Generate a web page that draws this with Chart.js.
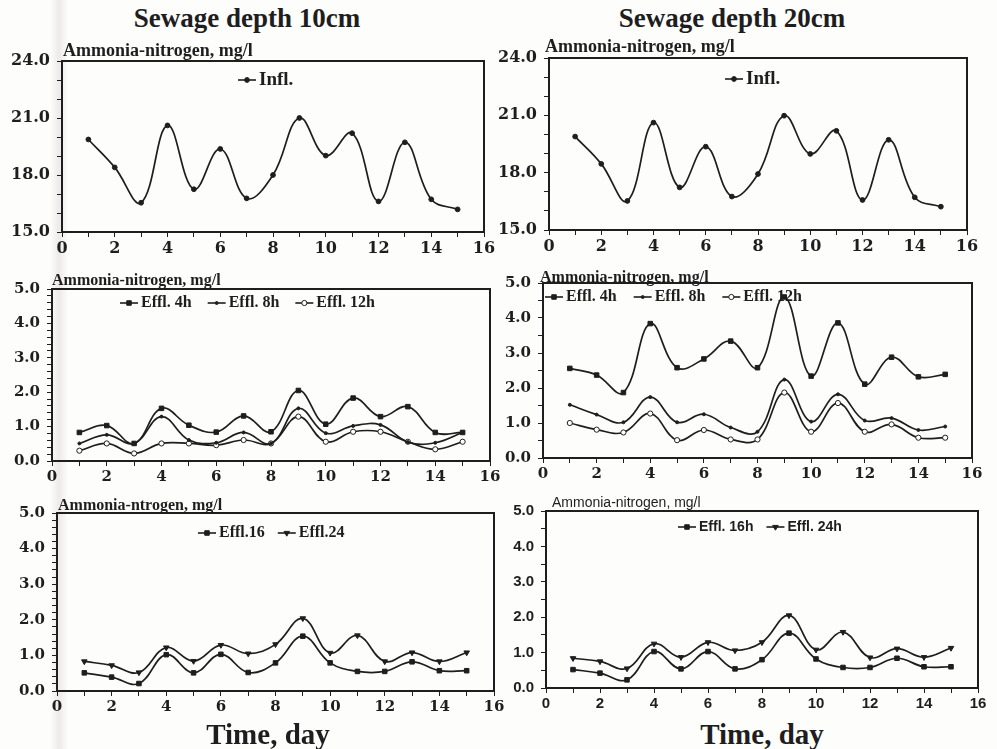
<!DOCTYPE html>
<html>
<head>
<meta charset="utf-8">
<script src="https://cdn.jsdelivr.net/npm/chart.js@4.4.1/dist/chart.umd.min.js"></script>
<style>
    body { margin: 0; width: 997px; height: 749px; position: relative; overflow: hidden; background: #fdfdfc; color: #1e1e1e; font-family: "Liberation Serif", serif; }
    .strip { position: absolute; left: 50px; top: 0; width: 18px; height: 749px; background: linear-gradient(90deg, rgba(0,0,0,0), rgba(120,110,100,0.13), rgba(0,0,0,0)); }
    .box { position: absolute; }
    .txt { position: absolute; white-space: nowrap; font-weight: bold; line-height: 1; }
    .head { font-size: 27px; transform: translate(-50%, -50%); }
    .ylab { transform: translateY(-50%); }
    .xlab { font-size: 29px; transform: translate(-50%, -50%); }
</style>
</head>
<body>
<div class="strip"></div>
<div id="charts"></div>

<div class="txt head" style="left:247px; top:18px;">Sewage depth 10cm</div>
<div class="txt head" style="left:732px; top:18px;">Sewage depth 20cm</div>

<div class="txt ylab" style="left:63px; top:50px; font-size:18px;">Ammonia-nitrogen, mg/l</div>
<div class="txt ylab" style="left:545px; top:46px; font-size:18px;">Ammonia-nitrogen, mg/l</div>
<div class="txt ylab" style="left:52px; top:280px; font-size:16px;">Ammonia-nitrogen, mg/l</div>
<div class="txt ylab" style="left:540px; top:277px; font-size:16px;">Ammonia-nitrogen, mg/l</div>
<div class="txt ylab" style="left:58px; top:505px; font-size:16px;">Ammonia-ntrogen, mg/l</div>
<div class="txt ylab" style="left:552px; top:502px; font-size:14px; font-weight:normal; font-family:'Liberation Sans', sans-serif;">Ammonia-nitrogen, mg/l</div>

<div class="txt xlab" style="left:268px; top:734px;">Time, day</div>
<div class="txt xlab" style="left:762px; top:734px;">Time, day</div>

<script>
// days of the run
const days = [1, 2, 3, 4, 5, 6, 7, 8, 9, 10, 11, 12, 13, 14, 15];

// influent, mg/l
const infl10 = [19.87, 18.40, 16.54, 20.61, 17.25, 19.37, 16.77, 18.00, 21.00, 19.02, 20.20, 16.61, 19.72, 16.72, 16.19];
const infl20 = [19.89, 18.46, 16.52, 20.62, 17.23, 19.36, 16.75, 17.93, 20.98, 18.98, 20.19, 16.57, 19.72, 16.71, 16.22];

// effluent, depth 10cm
const effl4h10 = [0.83, 1.03, 0.51, 1.53, 1.04, 0.84, 1.31, 0.85, 2.05, 1.07, 1.83, 1.29, 1.58, 0.83, 0.83];
const effl8h10 = [0.51, 0.76, 0.51, 1.29, 0.61, 0.53, 0.83, 0.51, 1.53, 0.81, 1.02, 1.05, 0.55, 0.53, 0.83];
const effl12h10 = [0.30, 0.51, 0.22, 0.51, 0.51, 0.46, 0.61, 0.51, 1.29, 0.56, 0.85, 0.85, 0.56, 0.34, 0.56];
const effl16h10 = [0.51, 0.39, 0.21, 1.02, 0.51, 1.03, 0.52, 0.79, 1.54, 0.79, 0.55, 0.55, 0.82, 0.57, 0.57];
const effl24h10 = [0.83, 0.72, 0.52, 1.22, 0.84, 1.29, 1.05, 1.31, 2.04, 1.07, 1.56, 0.83, 1.08, 0.83, 1.08];

// effluent, depth 20cm
const effl4h20 = [2.56, 2.37, 1.87, 3.84, 2.58, 2.83, 3.34, 2.58, 4.60, 2.34, 3.86, 2.11, 2.88, 2.32, 2.39];
const effl8h20 = [1.52, 1.24, 1.02, 1.74, 1.02, 1.25, 0.87, 0.75, 2.24, 1.04, 1.82, 1.07, 1.14, 0.80, 0.90];
const effl12h20 = [1.00, 0.81, 0.73, 1.27, 0.51, 0.80, 0.53, 0.53, 1.87, 0.75, 1.57, 0.75, 0.96, 0.58, 0.58];
const effl16h20 = [0.52, 0.42, 0.23, 1.03, 0.54, 1.03, 0.54, 0.80, 1.55, 0.82, 0.58, 0.58, 0.84, 0.60, 0.60];
const effl24h20 = [0.84, 0.75, 0.55, 1.25, 0.87, 1.29, 1.06, 1.29, 2.05, 1.08, 1.58, 0.86, 1.11, 0.87, 1.13];

// tick labels
const xTickLabels = [0, 2, 4, 6, 8, 10, 12, 14, 16];
const yTicksInfl = [15, 18, 21, 24];
const yTicksEffl = [0, 1, 2, 3, 4, 5];

const ink = '#1e1e1e';
const serif = "'Liberation Serif', serif";
const numSerif = "'DejaVu Serif', serif";
const sans = "'Liberation Sans', sans-serif";

// marker looks
const mk = {
    infl: { pointStyle: 'circle', radius: 2.4, fill: ink },
    sq: { pointStyle: 'rect', radius: 3.2, fill: ink },
    dot: { pointStyle: 'circle', radius: 1.5, fill: ink },
    ring: { pointStyle: 'circle', radius: 2.6, fill: '#fff' },
    tri: { pointStyle: 'triangle', radius: 3.2, fill: ink, rotation: 180 }
};

function isTick(v, list) {
    return list.some(t => Math.abs(t - v) < 1e-6);
}

// draws the box round the plot
const framePlugin = {
    id: 'frame',
    beforeDatasetsDraw(chart) {
        const a = chart.chartArea, ctx = chart.ctx;
        ctx.save();
        ctx.strokeStyle = ink;
        ctx.lineWidth = 2;
        ctx.strokeRect(a.left, a.top, a.right - a.left, a.bottom - a.top);
        ctx.restore();
    }
};

// legend drawn inside the plot
const innerLegend = {
    id: 'innerLegend',
    afterDraw(chart, args, opts) {
        const a = chart.chartArea, ctx = chart.ctx;
        let x = a.left + opts.x;
        const y = a.top + opts.y;
        ctx.save();
        ctx.font = opts.font;
        ctx.textBaseline = 'middle';
        chart.data.datasets.forEach(ds => {
            ctx.strokeStyle = ink;
            ctx.lineWidth = 1.6;
            ctx.beginPath();
            ctx.moveTo(x, y);
            ctx.lineTo(x + 18, y);
            ctx.stroke();
            ctx.fillStyle = ds.pointBackgroundColor;
            ctx.lineWidth = 1;
            Chart.helpers.drawPoint(ctx, {
                pointStyle: ds.pointStyle, radius: ds.pointRadius,
                rotation: ds.pointRotation || 0, borderWidth: 1
            }, x + 9, y);
            ctx.fillStyle = ink;
            ctx.fillText(ds.label, x + 21, y);
            x += 21 + ctx.measureText(ds.label).width + opts.gap;
        });
        ctx.restore();
    }
};

function makePanel(box, cfg) {
    const yW = 60, xH = 28, padT = 12, padR = 18;
    const w = box[2] - box[0] + yW + padR;
    const h = box[3] - box[1] + padT + xH;

    const wrap = document.createElement('div');
    wrap.className = 'box';
    wrap.style.left = (box[0] - yW) + 'px';
    wrap.style.top = (box[1] - padT) + 'px';
    const canvas = document.createElement('canvas');
    canvas.width = w;
    canvas.height = h;
    wrap.appendChild(canvas);
    document.getElementById('charts').appendChild(wrap);

    const datasets = cfg.series.map(s => ({
        label: s.label,
        data: days.map((d, i) => ({ x: d, y: s.values[i] })),
        borderColor: ink,
        borderWidth: 1.7,
        tension: 0.4,
        pointStyle: s.marker.pointStyle,
        pointRadius: s.marker.radius,
        pointRotation: s.marker.rotation || 0,
        pointBackgroundColor: s.marker.fill,
        pointBorderColor: ink,
        pointBorderWidth: 1
    }));

    const tickFont = { family: cfg.tickFamily, size: cfg.tickSize, weight: 'bold' };

    new Chart(canvas.getContext('2d'), {
        type: 'line',
        data: { datasets: datasets },
        options: {
            responsive: false,
            animation: false,
            layout: { padding: { top: padT, right: padR, left: 0, bottom: 0 } },
            plugins: {
                legend: { display: false },
                tooltip: { enabled: false },
                innerLegend: cfg.legend
            },
            scales: {
                x: {
                    type: 'linear', min: 0, max: 16,
                    ticks: {
                        stepSize: 1, autoSkip: false, maxRotation: 0, padding: 2,
                        color: ink, font: tickFont,
                        callback: v => isTick(v, xTickLabels) ? String(v) : ''
                    },
                    grid: { drawOnChartArea: false, drawTicks: true, tickLength: 5, color: ink, lineWidth: 1 },
                    border: { color: ink, width: 2 },
                    afterFit: s => { s.height = xH; s.paddingLeft = 0; s.paddingRight = 0; }
                },
                y: {
                    type: 'linear', min: cfg.yMin, max: cfg.yMax,
                    ticks: {
                        stepSize: cfg.yStep, autoSkip: false, padding: 7,
                        color: ink, font: tickFont,
                        callback: v => isTick(v, cfg.yTicks) ? v.toFixed(1) : ''
                    },
                    grid: { drawOnChartArea: false, drawTicks: true, tickLength: 5, color: ink, lineWidth: 1 },
                    border: { color: ink, width: 2 },
                    afterFit: s => { s.width = yW; s.paddingTop = 0; s.paddingBottom = 0; }
                }
            }
        },
        plugins: [framePlugin, innerLegend]
    });
}

// top row: influent
makePanel([62, 61, 484, 232], {
    yMin: 15, yMax: 24, yStep: 1, yTicks: yTicksInfl, tickFamily: numSerif, tickSize: 16,
    legend: { x: 176, y: 19, gap: 14, font: 'bold 19px ' + serif },
    series: [{ label: 'Infl.', values: infl10, marker: mk.infl }]
});
makePanel([549, 58, 967, 230], {
    yMin: 15, yMax: 24, yStep: 1, yTicks: yTicksInfl, tickFamily: numSerif, tickSize: 16,
    legend: { x: 176, y: 21, gap: 14, font: 'bold 19px ' + serif },
    series: [{ label: 'Infl.', values: infl20, marker: mk.infl }]
});

// middle row: 4h, 8h, 12h
makePanel([52, 289, 490, 461], {
    yMin: 0, yMax: 5, yStep: 0.2, yTicks: yTicksEffl, tickFamily: numSerif, tickSize: 15,
    legend: { x: 68, y: 14, gap: 16, font: 'bold 16px ' + serif },
    series: [
        { label: 'Effl. 4h', values: effl4h10, marker: mk.sq },
        { label: 'Effl. 8h', values: effl8h10, marker: mk.dot },
        { label: 'Effl. 12h', values: effl12h10, marker: mk.ring }
    ]
});
makePanel([543, 283, 972, 458], {
    yMin: 0, yMax: 5, yStep: 0.5, yTicks: yTicksEffl, tickFamily: numSerif, tickSize: 15,
    legend: { x: 2, y: 14, gap: 17, font: 'bold 16px ' + serif },
    series: [
        { label: 'Effl. 4h', values: effl4h20, marker: mk.sq },
        { label: 'Effl. 8h', values: effl8h20, marker: mk.dot },
        { label: 'Effl. 12h', values: effl12h20, marker: mk.ring }
    ]
});

// bottom row: 16h, 24h
makePanel([57, 513, 494, 691], {
    yMin: 0, yMax: 5, yStep: 0.2, yTicks: yTicksEffl, tickFamily: numSerif, tickSize: 15,
    legend: { x: 141, y: 20, gap: 13, font: 'bold 16px ' + serif },
    series: [
        { label: 'Effl.16', values: effl16h10, marker: mk.sq },
        { label: 'Effl.24', values: effl24h10, marker: mk.tri }
    ]
});
makePanel([546, 511, 978, 688], {
    yMin: 0, yMax: 5, yStep: 0.5, yTicks: yTicksEffl, tickFamily: sans, tickSize: 15,
    legend: { x: 132, y: 16, gap: 13, font: 'bold 14px ' + sans },
    series: [
        { label: 'Effl. 16h', values: effl16h20, marker: mk.sq },
        { label: 'Effl. 24h', values: effl24h20, marker: mk.tri }
    ]
});
</script>
</body>
</html>
